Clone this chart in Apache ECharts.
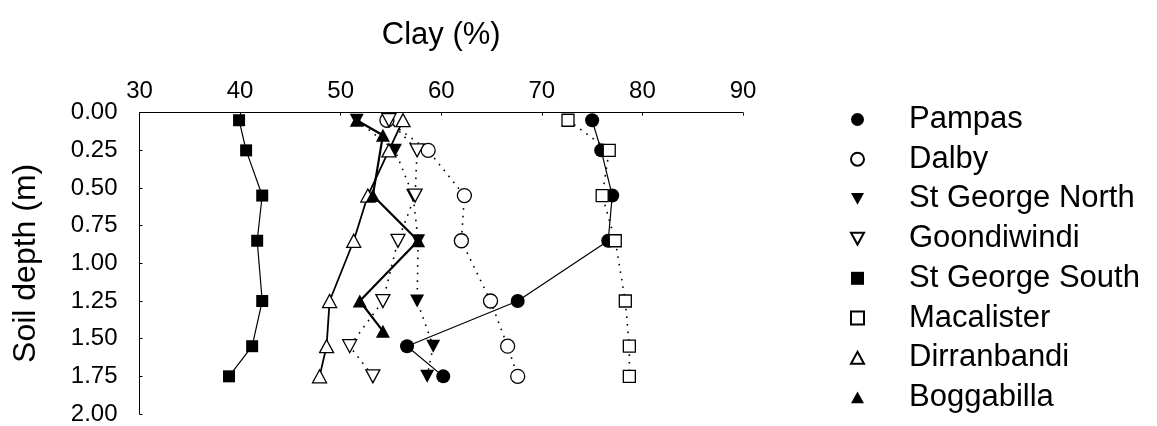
<!DOCTYPE html>
<html>
<head>
<meta charset="utf-8">
<script src="https://cdn.jsdelivr.net/npm/echarts@6/dist/echarts.min.js"></script>
<style>
  html, body { margin: 0; padding: 0; background: #ffffff; }
  #chart { width: 1157px; height: 426px; }
</style>
</head>
<body>
<div id="chart"></div>
<script>
// Clay content (%) down the soil profile at each site
const depths = [0.05, 0.25, 0.55, 0.85, 1.25, 1.55, 1.75];
const boggabillaDepths = [0.05, 0.15, 0.55, 0.85, 1.25, 1.45];

const pampas        = [75.0, 75.9, 77.0, 76.6, 67.6, 56.6, 60.2];
const dalby         = [54.6, 58.7, 62.3, 62.0, 64.9, 66.6, 67.6];
const stGeorgeNorth = [51.6, 55.4, 57.2, 57.7, 57.6, 59.2, 58.6];
const goondiwindi   = [54.8, 57.6, 57.4, 55.7, 54.2, 50.9, 53.2];
const stGeorgeSouth = [39.9, 40.6, 42.2, 41.7, 42.2, 41.2, 38.9];
const macalister    = [72.6, 76.7, 76.0, 77.3, 78.3, 78.7, 78.7];
const dirranbandi   = [56.2, 54.8, 52.7, 51.3, 48.9, 48.6, 47.9];
const boggabilla    = [51.6, 54.2, 53.2, 57.7, 51.9, 54.2];

const clayMin = 30, clayMax = 90, clayStep = 10;
const depthMin = 0, depthMax = 2, depthStep = 0.25;

const FONT = "'Liberation Sans', Arial, sans-serif";
const DOWN_TRI = 'path://M0,0 L12,0 L6,11 Z';
const UP_TRI = 'path://M6,0 L12,11 L0,11 Z';

const pairs = (xs, ys) => xs.map((x, i) => [x, ys[i]]);

function site(name, values, ds, symbol, size, filled, line) {
  return {
    name: name,
    type: 'line',
    data: pairs(values, ds),
    symbol: symbol,
    symbolSize: size,
    showSymbol: true,
    itemStyle: {
      color: filled ? '#000000' : '#ffffff',
      borderColor: '#000000',
      borderWidth: filled ? 0 : 1.3
    },
    lineStyle: Object.assign({ color: '#000000' }, line),
    emphasis: { disabled: true },
    animation: false
  };
}

const dotted = { width: 1.6, type: [1.6, 6] };

const series = [
  site('Pampas', pampas, depths, 'circle', 14, true, { width: 1.2, type: 'solid' }),
  site('Dalby', dalby, depths, 'circle', 14, false, dotted),
  site('St George North', stGeorgeNorth, depths, DOWN_TRI, [14, 13], true, dotted),
  site('Goondiwindi', goondiwindi, depths, DOWN_TRI, [14, 13], false, dotted),
  site('St George South', stGeorgeSouth, depths, 'rect', 12, true, { width: 1.2, type: 'solid' }),
  site('Macalister', macalister, depths, 'rect', 12, false, dotted),
  site('Dirranbandi', dirranbandi, depths, UP_TRI, [14, 13], false, { width: 1.8, type: 'solid' }),
  site('Boggabilla', boggabilla, boggabillaDepths, UP_TRI, [14, 13], true, { width: 2.2, type: 'solid' })
];

const legendIcons = {
  'Pampas': 'circle', 'Dalby': 'circle',
  'St George North': DOWN_TRI, 'Goondiwindi': DOWN_TRI,
  'St George South': 'rect', 'Macalister': 'rect',
  'Dirranbandi': UP_TRI, 'Boggabilla': UP_TRI
};

const chart = echarts.init(document.getElementById('chart'), null, { renderer: 'canvas' });
chart.setOption({
  backgroundColor: '#ffffff',
  animation: false,
  textStyle: { fontFamily: FONT, color: '#000000' },
  grid: { left: 139.5, right: 414, top: 112.7, bottom: 11, containLabel: false },
  xAxis: {
    type: 'value',
    position: 'top',
    min: clayMin, max: clayMax, interval: clayStep,
    name: 'Clay (%)',
    nameLocation: 'middle',
    nameGap: 62,
    nameTextStyle: { fontFamily: FONT, fontSize: 31, color: '#000000' },
    axisLine: { show: true, lineStyle: { color: '#000000', width: 1 } },
    axisTick: { show: true, inside: true, length: 3, lineStyle: { color: '#000000' } },
    axisLabel: { fontFamily: FONT, fontSize: 24, color: '#000000', margin: 9 },
    splitLine: { show: false }
  },
  yAxis: {
    type: 'value',
    inverse: true,
    min: depthMin, max: depthMax, interval: depthStep,
    name: 'Soil depth (m)',
    nameLocation: 'middle',
    nameGap: 97,
    nameTextStyle: { fontFamily: FONT, fontSize: 32, color: '#000000' },
    axisLine: { show: true, lineStyle: { color: '#000000', width: 1 } },
    axisTick: { show: true, inside: true, length: 3, lineStyle: { color: '#000000' } },
    axisLabel: {
      fontFamily: FONT, fontSize: 24, color: '#000000', margin: 22,
      formatter: v => v.toFixed(2)
    },
    splitLine: { show: false }
  },
  legend: {
    orient: 'vertical',
    left: 850,
    top: 104,
    padding: 0,
    height: 322,
    itemWidth: 13,
    itemHeight: 13,
    itemGap: 8.7,
    selectedMode: false,
    data: series.map(s => ({ name: s.name, icon: legendIcons[s.name] })),
    textStyle: {
      fontFamily: FONT, fontSize: 31, color: '#000000',
      padding: [0, 0, 0, 40]
    }
  },
  series: series
});
</script>
</body>
</html>
